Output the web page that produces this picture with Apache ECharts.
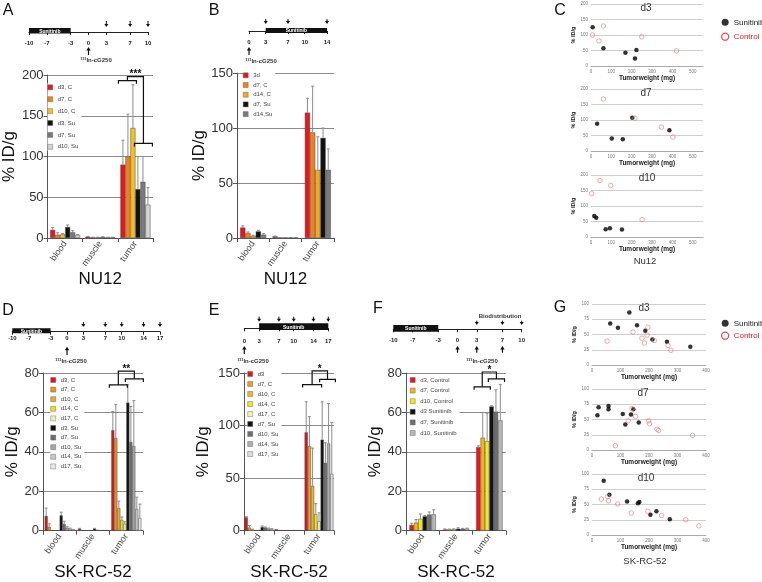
<!DOCTYPE html>
<html><head><meta charset="utf-8">
<script src="https://cdn.jsdelivr.net/npm/echarts@6/dist/echarts.min.js"></script>
<style>html,body{margin:0;padding:0;background:#fff}#c{width:762px;height:582px}</style>
</head><body><div id="c"></div><script>
// ---------------- DATA ----------------
const categories = ['blood', 'muscle', 'tumor'];

// Panel A (NU12)
const aNames   = ['d3, C', 'd7, C', 'd10, C', 'd3, Su', 'd7, Su', 'd10, Su'];
const aBlood   = [10, 4, 4.5, 13.5, 7, 3.7];
const aMuscle  = [1.6, 0.8, 0.8, 1.2, 0.8, 0.8];
const aTumor   = [90, 100, 135, 60, 69, 41];
const aBloodSD = [3, 2.5, 1, 2.5, 2, 0.5];
const aMuscleSD= [0.3, 0.2, 0.2, 0.3, 0.2, 0.2];
const aTumorSD = [30, 52, 53, 40, 31, 21];

// Panel B (NU12)
const bNames   = ['3d', 'd7, C', 'd14, C', 'd7, Su', 'd14,Su'];
const bBlood   = [9.5, 4.5, 2, 6, 3];
const bMuscle  = [1.5, 0.5, 0.5, 0.5, 0.5];
const bTumor   = [114, 96, 62, 91, 62];
const bBloodSD = [1.5, 1, 0.5, 1, 1];
const bMuscleSD= [0.3, 0, 0, 0, 0];
const bTumorSD = [13, 42, 30, 9, 19];

// Panel D (SK-RC-52)
const dNames   = ['d3, C', 'd7, C', 'd10, C', 'd14, C', 'd17, C', 'd3, Su', 'd7, Su', 'd10, Su', 'd14, Su', 'd17, Su'];
const dBlood   = [7.5, 2, 0.3, 0.2, 0.2, 7.8, 3.4, 1.5, 1, 0.5];
const dMuscle  = [1, 0.3, 0.2, 0.2, 0.2, 1, 0.4, 0.3, 0.3, 0.3];
const dTumor   = [51, 47, 11.5, 5.5, 3.5, 65, 45, 43, 11, 6.5];
const dBloodSD = [4, 1.5, 0, 0, 0, 1.6, 1.4, 0.5, 0.3, 0.2];
const dMuscleSD= [0.2, 0, 0, 0, 0, 0.2, 0, 0, 0, 0];
const dTumorSD = [9.5, 17, 3.5, 1.5, 1, 9, 18, 23, 6, 7];

// Panel E (SK-RC-52)
const eNames   = ['d3', 'd7, C', 'd10, C', 'd14, C', 'd17, C', 'd7, Su', 'd10, Su', 'd14, Su', 'd17, Su'];
const eBlood   = [12.8, 3, 1, 0.5, 0.5, 3.5, 3, 2, 1.5];
const eMuscle  = [1.5, 0.5, 0.5, 0.5, 0.5, 0.5, 0.5, 0.5, 0.5];
const eTumor   = [93.6, 80.5, 42.6, 15.8, 9, 86.6, 64.6, 83, 54];
const eBloodSD = [0.5, 2, 0.5, 0, 0, 1, 0.5, 0.5, 0.5];
const eMuscleSD= [0, 0, 0, 0, 0, 0, 0, 0, 0];
const eTumorSD = [29, 28, 36, 10, 8, 36, 19, 38, 49];

// Panel F (SK-RC-52)
const fNames   = ['d3, Control', 'd7, Control', 'd10, Control', 'd3 Sunitinib', 'd7, Sunitinib', 'd10, Sunitinib'];
const fBlood   = [2.9, 4.1, 6, 7.3, 8.2, 8.3];
const fMuscle  = [0.6, 0.7, 0.8, 1.0, 1.0, 1.1];
const fTumor   = [42.4, 47.2, 45.4, 63, 60.4, 56];
const fBloodSD = [0.9, 1.6, 2.5, 0.4, 1.3, 2.3];
const fMuscleSD= [0.3, 0.1, 0.1, 0.5, 0.2, 0.2];
const fTumorSD = [0.7, 12.8, 14.2, 0.4, 11.1, 18.1];

// Significance brackets (tumor): bar index ranges and levels
const aBracket = {left: [0, 2], leftY: 193, right: [3, 5], rightY: 116, topY: 198, label: '***'};
const dBracket = {left: [0, 4], leftY: 74,  right: [5, 9], rightY: 77,  topY: 81,  label: '**'};
const eBracket = {left: [0, 4], leftY: 139, right: [5, 8], rightY: 144, topY: 152, label: '*'};
const fBracket = {left: [0, 2], leftY: 73,  right: [3, 5], rightY: 77,  topY: 80.5, label: '*'};

// Timelines (days)
const aTicks = [-10, -7, -3, 0, 3, 7, 10];   const aSun = [-10, -3]; const aBio = [3, 7, 10];          const aInj = [0];
const bTicks = [0, 3, 7, 10, 14];            const bSun = [3, 14];   const bBio = [3, 7, 14];          const bInj = [0];
const dTicks = [-10, -7, -3, 0, 3, 7, 10, 14, 17]; const dSun = [-10, -3]; const dBio = [3, 7, 10, 14, 17]; const dInj = [0];
const eTicks = [0, 3, 7, 10, 14, 17];        const eSun = [3, 17];   const eBio = [3, 7, 10, 14, 17];  const eInj = [0];
const fTicks = [-10, -7, -3, 0, 3, 7, 10];   const fSun = [-10, -3]; const fBio = [3, 7, 10];          const fInj = [0, 3, 7];

// Scatter C (Nu12): [tumor weight mg, %ID/g]
const cD3Sun  = [[8,125],[61,57],[169,43],[223,52],[216,24]];
const cD3Ctl  = [[7,100],[61,129],[39,81],[249,94],[420,49]];
const cD7Sun  = [[30,88],[102,40],[156,38],[203,107],[385,67]];
const cD7Ctl  = [[61,168],[216,106],[346,77],[402,45]];
const cD10Sun = [[16,68],[26,62],[72,25],[93,28],[152,24]];
const cD10Ctl = [[3,140],[44,182],[97,166],[251,56]];

// Scatter G (SK-RC-52)
const gD3Sun  = [[64,68],[91,61],[131,86],[158,65],[187,56],[212,42],[263,38],[345,30]];
const gD3Ctl  = [[53,39],[144,54],[175,44],[184,36],[193,49],[196,62],[219,40],[267,32],[277,24]];
const gD7Sun  = [[19,57],[23,70],[58,72],[58,67],[108,59],[117,42],[137,58],[145,67],[164,45]];
const gD7Ctl  = [[82,7],[127,48],[140,68],[153,55],[199,48],[202,43],[228,34],[234,32],[353,24]];
const gD10Sun = [[41,89],[61,66],[123,55],[161,52],[166,54],[205,33],[226,39],[273,26]];
const gD10Ctl = [[33,59],[55,63],[58,56],[90,51],[138,36],[196,39],[244,32],[329,25],[375,15]];

// ---------------- BUILD ----------------
const FONT = '"Liberation Sans", Arial, sans-serif';
const grids = [], xAxes = [], yAxes = [], series = [], legends = [], graphics = [];
const fmt = s => s.split('|')[1];

function addGrid(g) { grids.push(g); return grids.length - 1; }

function barPanel(key, o) {
  const gi = addGrid({left: o.left, top: o.top, width: o.width, height: o.height});
  xAxes.push({gridIndex: gi, type: 'category', data: categories, boundaryGap: true,
    name: o.xName, nameLocation: 'middle', nameGap: o.xNameGap,
    nameTextStyle: {fontSize: 17, color: '#111', fontFamily: FONT},
    axisLine: {lineStyle: {color: '#555', width: 1}},
    axisTick: {show: true, length: 4, lineStyle: {color: '#555'}},
    axisLabel: {rotate: 55, fontSize: 9, color: '#444', margin: 4, interval: 0, fontFamily: FONT}});
  const xi = xAxes.length - 1;
  yAxes.push({gridIndex: gi, type: 'value', min: 0, max: o.max, interval: o.interval,
    name: '% ID/g', nameLocation: 'middle', nameRotate: 90, nameGap: o.yNameGap,
    nameTextStyle: {fontSize: 17, color: '#111', fontFamily: FONT},
    axisLine: {show: true, lineStyle: {color: '#555'}},
    axisTick: {show: true, length: 4, lineStyle: {color: '#555'}},
    axisLabel: {fontSize: 13, color: '#333', margin: 4, fontFamily: FONT},
    splitLine: {show: true, lineStyle: {color: '#8a8a8a', width: 1}}});
  const yi = yAxes.length - 1;
  const n = o.names.length, bw = o.barWidth;
  o.names.forEach((nm, i) => {
    series.push({type: 'bar', name: key + '|' + nm, xAxisIndex: xi, yAxisIndex: yi,
      barWidth: bw, barGap: '0%', data: [o.blood[i], o.muscle[i], o.tumor[i]],
      itemStyle: {color: o.colors[i], borderColor: '#4a4a4a', borderWidth: 0.5},
      silent: true, animation: false});
  });
  const errData = [];
  const vals = [o.blood, o.muscle, o.tumor], sds = [o.bloodSD, o.muscleSD, o.tumorSD];
  for (let c = 0; c < 3; c++) for (let i = 0; i < n; i++) errData.push([c, i, vals[c][i], sds[c][i]]);
  series.push({type: 'custom', xAxisIndex: xi, yAxisIndex: yi, data: errData, encode: {x: 0, y: 2},
    silent: true, animation: false, clip: false, z: 3,
    renderItem: (params, api) => {
      const c = api.value(0), i = api.value(1), v = api.value(2), sd = api.value(3);
      if (!(sd > 0)) return;
      const p0 = api.coord([c, v]), p1 = api.coord([c, v + sd]);
      const x = p0[0] + (i - (n - 1) / 2) * bw;
      const st = {stroke: '#8c8c8c', lineWidth: 1};
      return {type: 'group', children: [
        {type: 'line', shape: {x1: x, y1: p0[1], x2: x, y2: p1[1]}, style: st},
        {type: 'line', shape: {x1: x - 1.5, y1: p1[1], x2: x + 1.5, y2: p1[1]}, style: st}]};
    }});
  if (o.bracket) {
    const b = o.bracket;
    series.push({type: 'custom', xAxisIndex: xi, yAxisIndex: yi, data: [[2, b.topY]],
      silent: true, animation: false, clip: false, z: 4,
      renderItem: (params, api) => {
        const cx = api.coord([2, 0])[0];
        const L = i => cx + (i - n / 2) * bw;
        const yOf = v => api.coord([2, v])[1];
        const l1 = L(b.left[0]) - 2, l2 = L(b.left[1] + 1) + 1;
        const r1 = L(b.right[0]) - 1, r2 = L(b.right[1] + 1) + 2;
        const ly = yOf(b.leftY), ry = yOf(b.rightY), ty = yOf(b.topY);
        const lm = (l1 + l2) / 2, rm = (r1 + r2) / 2, d = 3;
        const st = {stroke: '#111', fill: null, lineWidth: 1.2};
        return {type: 'group', children: [
          {type: 'polyline', shape: {points: [[l1, ly + d], [l1, ly], [l2, ly], [l2, ly + d]]}, style: st},
          {type: 'polyline', shape: {points: [[r1, ry + d], [r1, ry], [r2, ry], [r2, ry + d]]}, style: st},
          {type: 'polyline', shape: {points: [[lm, ly], [lm, ty], [rm, ty], [rm, ry]]}, style: st},
          {type: 'text', style: {text: b.label, x: (lm + rm) / 2, y: ty + 3, align: 'center',
            verticalAlign: 'bottom', fontSize: 10, fontWeight: 'bold', fill: '#111', fontFamily: FONT}}]};
      }});
  }
  legends.push({left: o.legLeft, top: o.legTop, orient: 'vertical', selectedMode: false,
    data: o.names.map(nm => key + '|' + nm), formatter: fmt, icon: 'rect',
    itemWidth: 5, itemHeight: 5, itemGap: o.legGap, padding: [0, 3, 0, 0], backgroundColor: '#fff',
    itemStyle: {borderWidth: 0.4, borderColor: '#555'},
    textStyle: {fontSize: 6, color: '#444', lineHeight: 8, fontFamily: FONT}});
}

function timeline(o) {
  const gi = addGrid({left: o.x0, width: o.x1 - o.x0, top: o.lineY - 20, height: 20});
  xAxes.push({gridIndex: gi, type: 'value', min: o.min, max: o.max, position: 'bottom',
    axisLine: {show: true, onZero: false, lineStyle: {color: '#222', width: 1}},
    axisTick: {show: true, customValues: o.ticks, length: 3, lineStyle: {color: '#222'}},
    axisLabel: {customValues: o.ticks, fontSize: 6, color: '#222', margin: o.margin, fontWeight: 'bold', fontFamily: FONT},
    splitLine: {show: false}});
  const xi = xAxes.length - 1;
  yAxes.push({gridIndex: gi, type: 'value', min: 0, max: 1, show: false});
  const yi = yAxes.length - 1;
  series.push({type: 'custom', xAxisIndex: xi, yAxisIndex: yi, data: [o.sun], clip: false, silent: true, animation: false,
    renderItem: (params, api) => {
      const a = api.coord([api.value(0), 0]), b = api.coord([api.value(1), 0]);
      const top = a[1] - o.barUp, h = o.barUp + o.barDown;
      return {type: 'group', children: [
        {type: 'rect', shape: {x: a[0], y: top, width: b[0] - a[0], height: h}, style: {fill: '#111'}},
        {type: 'text', style: {text: 'Sunitinib', x: (a[0] + b[0]) / 2, y: top + h / 2 + 0.5, align: 'center',
          verticalAlign: 'middle', fontSize: 5, fontWeight: 'bold', fill: '#fff', fontFamily: FONT}}]};
    }});
  series.push({type: 'custom', xAxisIndex: xi, yAxisIndex: yi, data: o.bio.map(d => [d, 0]), clip: false, silent: true, animation: false,
    renderItem: (params, api) => {
      const p = api.coord([api.value(0), 0]); const y1 = p[1] - o.dnTop, y2 = p[1] - o.dnBot;
      return {type: 'group', children: [
        {type: 'line', shape: {x1: p[0], y1: y1, x2: p[0], y2: y2 - 2}, style: {stroke: '#111', lineWidth: 1}},
        {type: 'polygon', shape: {points: [[p[0] - 2, y2 - 3], [p[0] + 2, y2 - 3], [p[0], y2]]}, style: {fill: '#111'}}]};
    }});
  series.push({type: 'custom', xAxisIndex: xi, yAxisIndex: yi, data: o.inj.map(d => [d, 0]), clip: false, silent: true, animation: false,
    renderItem: (params, api) => {
      const p = api.coord([api.value(0), 0]); const yt = p[1] + o.upTop, yb = p[1] + o.upBot;
      return {type: 'group', children: [
        {type: 'line', shape: {x1: p[0], y1: yt + 2, x2: p[0], y2: yb}, style: {stroke: '#111', lineWidth: 1.2}},
        {type: 'polygon', shape: {points: [[p[0] - 2.2, yt + 3.5], [p[0] + 2.2, yt + 3.5], [p[0], yt]]}, style: {fill: '#111'}}]};
    }});
}

function scatterPanel(key, o) {
  const gi = addGrid({left: o.left, top: o.top, width: o.width, height: o.height});
  xAxes.push({gridIndex: gi, type: 'value', min: 0, max: o.xMax, interval: 100,
    name: 'Tumorweight (mg)', nameLocation: 'middle', nameGap: 6,
    nameTextStyle: {fontSize: 6.5, fontWeight: 'bold', color: '#222', fontFamily: FONT},
    axisLine: {show: true, lineStyle: {color: '#aaa'}}, axisTick: {show: false},
    axisLabel: {fontSize: 4.5, color: '#777', margin: 3, showMaxLabel: o.xMax % 100 === 0},
    splitLine: {show: false}});
  const xi = xAxes.length - 1;
  yAxes.push({gridIndex: gi, type: 'value', min: 0, max: o.yMax, interval: o.yInt,
    name: '% ID/g', nameLocation: 'middle', nameRotate: 90, nameGap: 12,
    nameTextStyle: {fontSize: 5.5, fontWeight: 'bold', color: '#222', fontFamily: FONT},
    axisLine: {show: false}, axisTick: {show: false},
    axisLabel: {fontSize: 4.5, color: '#777', margin: 3},
    splitLine: {show: true, lineStyle: {color: '#cfcfcf', width: 1.2}}});
  const yi = yAxes.length - 1;
  series.push({type: 'scatter', name: key + '|Sunitinib', xAxisIndex: xi, yAxisIndex: yi, data: o.sun,
    symbol: 'circle', symbolSize: 4.5, itemStyle: {color: '#000'}, silent: true, animation: false, z: 3});
  series.push({type: 'scatter', name: key + '|Control', xAxisIndex: xi, yAxisIndex: yi, data: o.ctl,
    symbol: 'circle', symbolSize: 4.5, itemStyle: {color: 'rgba(255,255,255,0)', borderColor: '#e27a7a', borderWidth: 0.8},
    silent: true, animation: false, z: 3});
  txt(o.tx, o.ty, o.title, {fontSize: 10, fill: '#333'});
}

function txt(x, y, text, st) {
  graphics.push({type: 'text', x: x, y: y, silent: true, z: 10,
    style: Object.assign({text: text, fill: '#222', fontFamily: FONT, align: 'center', verticalAlign: 'middle'}, st)});
}
function isotope(x, y) {
  graphics.push({type: 'text', x: x, y: y, silent: true, z: 10,
    style: {text: '{s|111}In-cG250', fill: '#333', fontFamily: FONT, fontSize: 6, fontWeight: 'bold', align: 'center', verticalAlign: 'middle',
      rich: {s: {fontSize: 4, fill: '#333', fontWeight: 'bold', verticalAlign: 'top', padding: [0, 0, 3, 0]}}}});
}

const redC = '#e3191f', blackC = '#111111';

barPanel('A', {left: 44, top: 75, width: 109, height: 163, max: 200, interval: 50, barWidth: 5,
  xName: 'NU12', xNameGap: 27, yNameGap: 26, names: aNames, blood: aBlood, muscle: aMuscle, tumor: aTumor,
  bloodSD: aBloodSD, muscleSD: aMuscleSD, tumorSD: aTumorSD, bracket: aBracket,
  colors: [redC, '#f0821e', '#f7bf22', blackC, '#7a7a7a', '#d4d4d4'],
  legLeft: 47.5, legTop: 83.3, legGap: 3.9});
barPanel('B', {left: 237, top: 73, width: 97, height: 165, max: 150, interval: 50, barWidth: 5.2,
  xName: 'NU12', xNameGap: 30, yNameGap: 20, names: bNames, blood: bBlood, muscle: bMuscle, tumor: bTumor,
  bloodSD: bBloodSD, muscleSD: bMuscleSD, tumorSD: bTumorSD, bracket: null,
  colors: [redC, '#f0821e', '#f5a623', blackC, '#7a7a7a'],
  legLeft: 243, legTop: 71.3, legGap: 1.7});
barPanel('D', {left: 43, top: 373, width: 100, height: 164, max: 80, interval: 20, barWidth: 3,
  xName: 'SK-RC-52', xNameGap: 29, yNameGap: 21, names: dNames, blood: dBlood, muscle: dMuscle, tumor: dTumor,
  bloodSD: dBloodSD, muscleSD: dMuscleSD, tumorSD: dTumorSD, bracket: dBracket,
  colors: ['#d8191f', '#f0901e', '#eaa830', '#e8e020', '#f6f2b0', blackC, '#6e6e6e', '#a6a6a6', '#c8c8c8', '#e8e8e8'],
  legLeft: 50.5, legTop: 376, legGap: 1.6});
barPanel('E', {left: 244, top: 373, width: 90, height: 164, max: 150, interval: 50, barWidth: 3.2,
  xName: 'SK-RC-52', xNameGap: 29, yNameGap: 32, names: eNames, blood: eBlood, muscle: eMuscle, tumor: eTumor,
  bloodSD: eBloodSD, muscleSD: eMuscleSD, tumorSD: eTumorSD, bracket: eBracket,
  colors: ['#d8191f', '#f09a2a', '#f0b428', '#ece22a', '#f6f2b0', blackC, '#6e6e6e', '#b0b0b0', '#dcdcdc'],
  legLeft: 247.5, legTop: 370, legGap: 2});
barPanel('F', {left: 406, top: 373, width: 100, height: 164, max: 80, interval: 20, barWidth: 4.4,
  xName: 'SK-RC-52', xNameGap: 29, yNameGap: 19, names: fNames, blood: fBlood, muscle: fMuscle, tumor: fTumor,
  bloodSD: fBloodSD, muscleSD: fMuscleSD, tumorSD: fTumorSD, bracket: fBracket,
  colors: [redC, '#f5b21e', '#f5e61e', blackC, '#6e6e6e', '#b8b8b8'],
  legLeft: 410, legTop: 376, legGap: 2.6});

timeline({x0: 29, x1: 148, lineY: 32, min: -10, max: 10, ticks: aTicks, sun: aSun, bio: aBio, inj: aInj,
  margin: 8, barUp: 4, barDown: 1.5, dnTop: 11, dnBot: 5, upTop: 15, upBot: 23});
timeline({x0: 249, x1: 327, lineY: 31, min: 0, max: 14, ticks: bTicks, sun: bSun, bio: bBio, inj: bInj,
  margin: 8, barUp: 3, barDown: 2, dnTop: 12, dnBot: 7, upTop: 16, upBot: 24});
timeline({x0: 12.3, x1: 160, lineY: 331.7, min: -10, max: 17, ticks: dTicks, sun: dSun, bio: dBio, inj: dInj,
  margin: 4, barUp: 3.4, barDown: 1.6, dnTop: 9.7, dnBot: 4.7, upTop: 15, upBot: 23.3});
timeline({x0: 244.3, x1: 328.3, lineY: 328.3, min: 0, max: 17, ticks: eTicks, sun: eSun, bio: eBio, inj: eInj,
  margin: 10, barUp: 5, barDown: 1.7, dnTop: 11.6, dnBot: 6.6, upTop: 17.7, upBot: 25.7});
timeline({x0: 393.3, x1: 521.7, lineY: 329.3, min: -10, max: 10, ticks: fTicks, sun: fSun, bio: fBio, inj: fInj,
  margin: 8, barUp: 4.3, barDown: 2.4, dnTop: 8.6, dnBot: 4.3, upTop: 16.7, upBot: 23.4});

scatterPanel('C', {left: 591, top: 4, width: 112, height: 62, xMax: 550, yMax: 200, yInt: 50, sun: cD3Sun, ctl: cD3Ctl, title: 'd3', tx: 646, ty: 8});
scatterPanel('C', {left: 591, top: 89, width: 112, height: 62, xMax: 550, yMax: 200, yInt: 50, sun: cD7Sun, ctl: cD7Ctl, title: 'd7', tx: 646, ty: 93});
scatterPanel('C', {left: 591, top: 175, width: 112, height: 62, xMax: 550, yMax: 200, yInt: 50, sun: cD10Sun, ctl: cD10Ctl, title: 'd10', tx: 647, ty: 178});
scatterPanel('G', {left: 592, top: 304, width: 114, height: 61, xMax: 400, yMax: 100, yInt: 25, sun: gD3Sun, ctl: gD3Ctl, title: 'd3', tx: 644, ty: 308});
scatterPanel('G', {left: 592, top: 389, width: 114, height: 61, xMax: 400, yMax: 100, yInt: 25, sun: gD7Sun, ctl: gD7Ctl, title: 'd7', tx: 643, ty: 393});
scatterPanel('G', {left: 592, top: 474, width: 114, height: 61, xMax: 400, yMax: 100, yInt: 25, sun: gD10Sun, ctl: gD10Ctl, title: 'd10', tx: 646, ty: 478});

function scLegend(key, top, gap) {
  legends.push({orient: 'vertical', left: 716, top: top, itemWidth: 7, itemHeight: 7, itemGap: gap, selectedMode: false,
    formatter: fmt, textStyle: {fontSize: 8, color: '#222', lineHeight: 10, fontFamily: FONT},
    data: [{name: key + '|Sunitinib', icon: 'circle', itemStyle: {color: '#000', borderWidth: 0}},
           {name: key + '|Control', icon: 'circle',
            itemStyle: {color: '#fff', borderColor: '#e02020', borderWidth: 1.3},
            textStyle: {color: '#e02020'}}]});
}
scLegend('C', 12.3, 4.4);
scLegend('G', 313.3, 2.4);

// panel letters and captions
const letters = [['A', 8, 11], ['B', 214, 11], ['C', 560, 11], ['D', 8, 311], ['E', 214, 311], ['F', 378, 309], ['G', 560, 308]];
letters.forEach(l => txt(l[1], l[2], l[0], {fontSize: 16, fill: '#111'}));
txt(645, 261, 'Nu12', {fontSize: 9.5, fill: '#333'});
txt(645, 561, 'SK-RC-52', {fontSize: 9.5, fill: '#333'});
isotope(96, 60); isotope(261, 61); isotope(71, 361); isotope(253, 361); isotope(482, 361);
txt(500, 316, 'Biodistribution', {fontSize: 6, fill: '#333', fontWeight: 'bold'});

const chart = echarts.init(document.getElementById('c'), null, {renderer: 'canvas'});
chart.setOption({
  animation: false,
  backgroundColor: '#fff',
  textStyle: {fontFamily: FONT},
  grid: grids, xAxis: xAxes, yAxis: yAxes, series: series, legend: legends, graphic: graphics
});
</script></body></html>
